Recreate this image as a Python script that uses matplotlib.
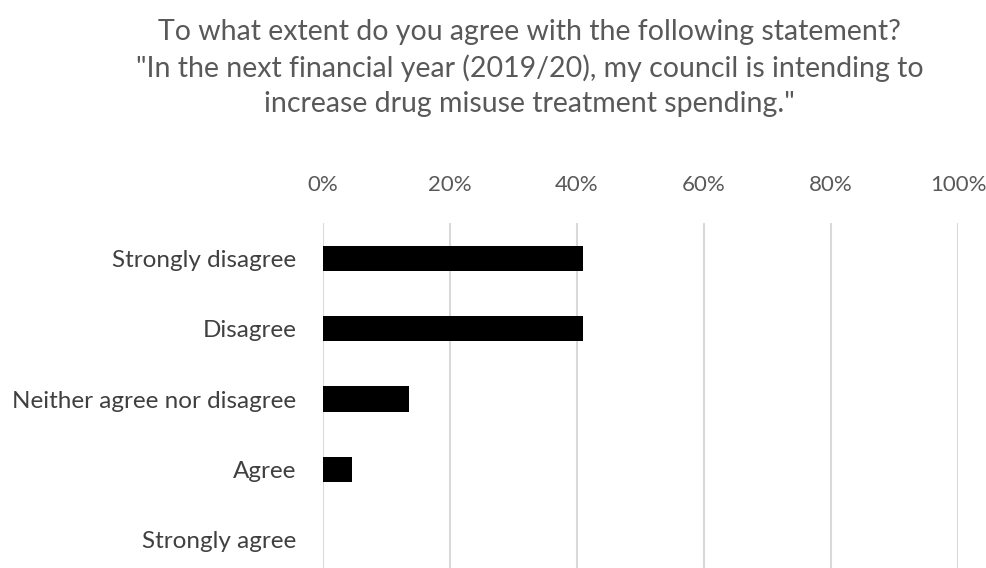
import matplotlib.pyplot as plt
from matplotlib.ticker import PercentFormatter

plt.rcParams['font.family'] = ['Lato', 'DejaVu Sans']

categories = ['Strongly disagree', 'Disagree', 'Neither agree nor disagree',
              'Agree', 'Strongly agree']
shares = [40.9, 40.9, 13.6, 4.5, 0.0]
ticks = [0, 20, 40, 60, 80, 100]

title = ('To what extent do you agree with the following statement?\n'
         '"In the next financial year (2019/20), my council is intending to\n'
         'increase drug misuse treatment spending."')

fig = plt.figure(figsize=(9.86, 5.68), dpi=100)
ax = fig.add_axes([0.3276, -0.012, 0.644, 0.619])

y = list(range(len(categories)))
ax.barh(y, shares, height=0.36, color='black', zorder=3)
ax.set_yticks(y)
ax.set_yticklabels(categories, fontsize=17.5, color='#404040')
ax.set_ylim(len(categories) - 0.5, -0.5)

ax.set_xlim(0, 100)
ax.set_xticks(ticks)
ax.xaxis.set_major_formatter(PercentFormatter(decimals=0))
ax.xaxis.tick_top()
ax.tick_params(axis='x', length=0, pad=20, labelsize=16, labelcolor='#595959')
ax.tick_params(axis='y', length=0, pad=19)
ax.grid(axis='x', color='#d9d9d9', linewidth=1.5, zorder=0)
for s in ax.spines.values():
    s.set_visible(False)

fig.text(0.537, 0.966, title, ha='center', va='top', fontsize=20.5,
         color='#595959', linespacing=1.42)

fig.savefig('out.png', dpi=100)
